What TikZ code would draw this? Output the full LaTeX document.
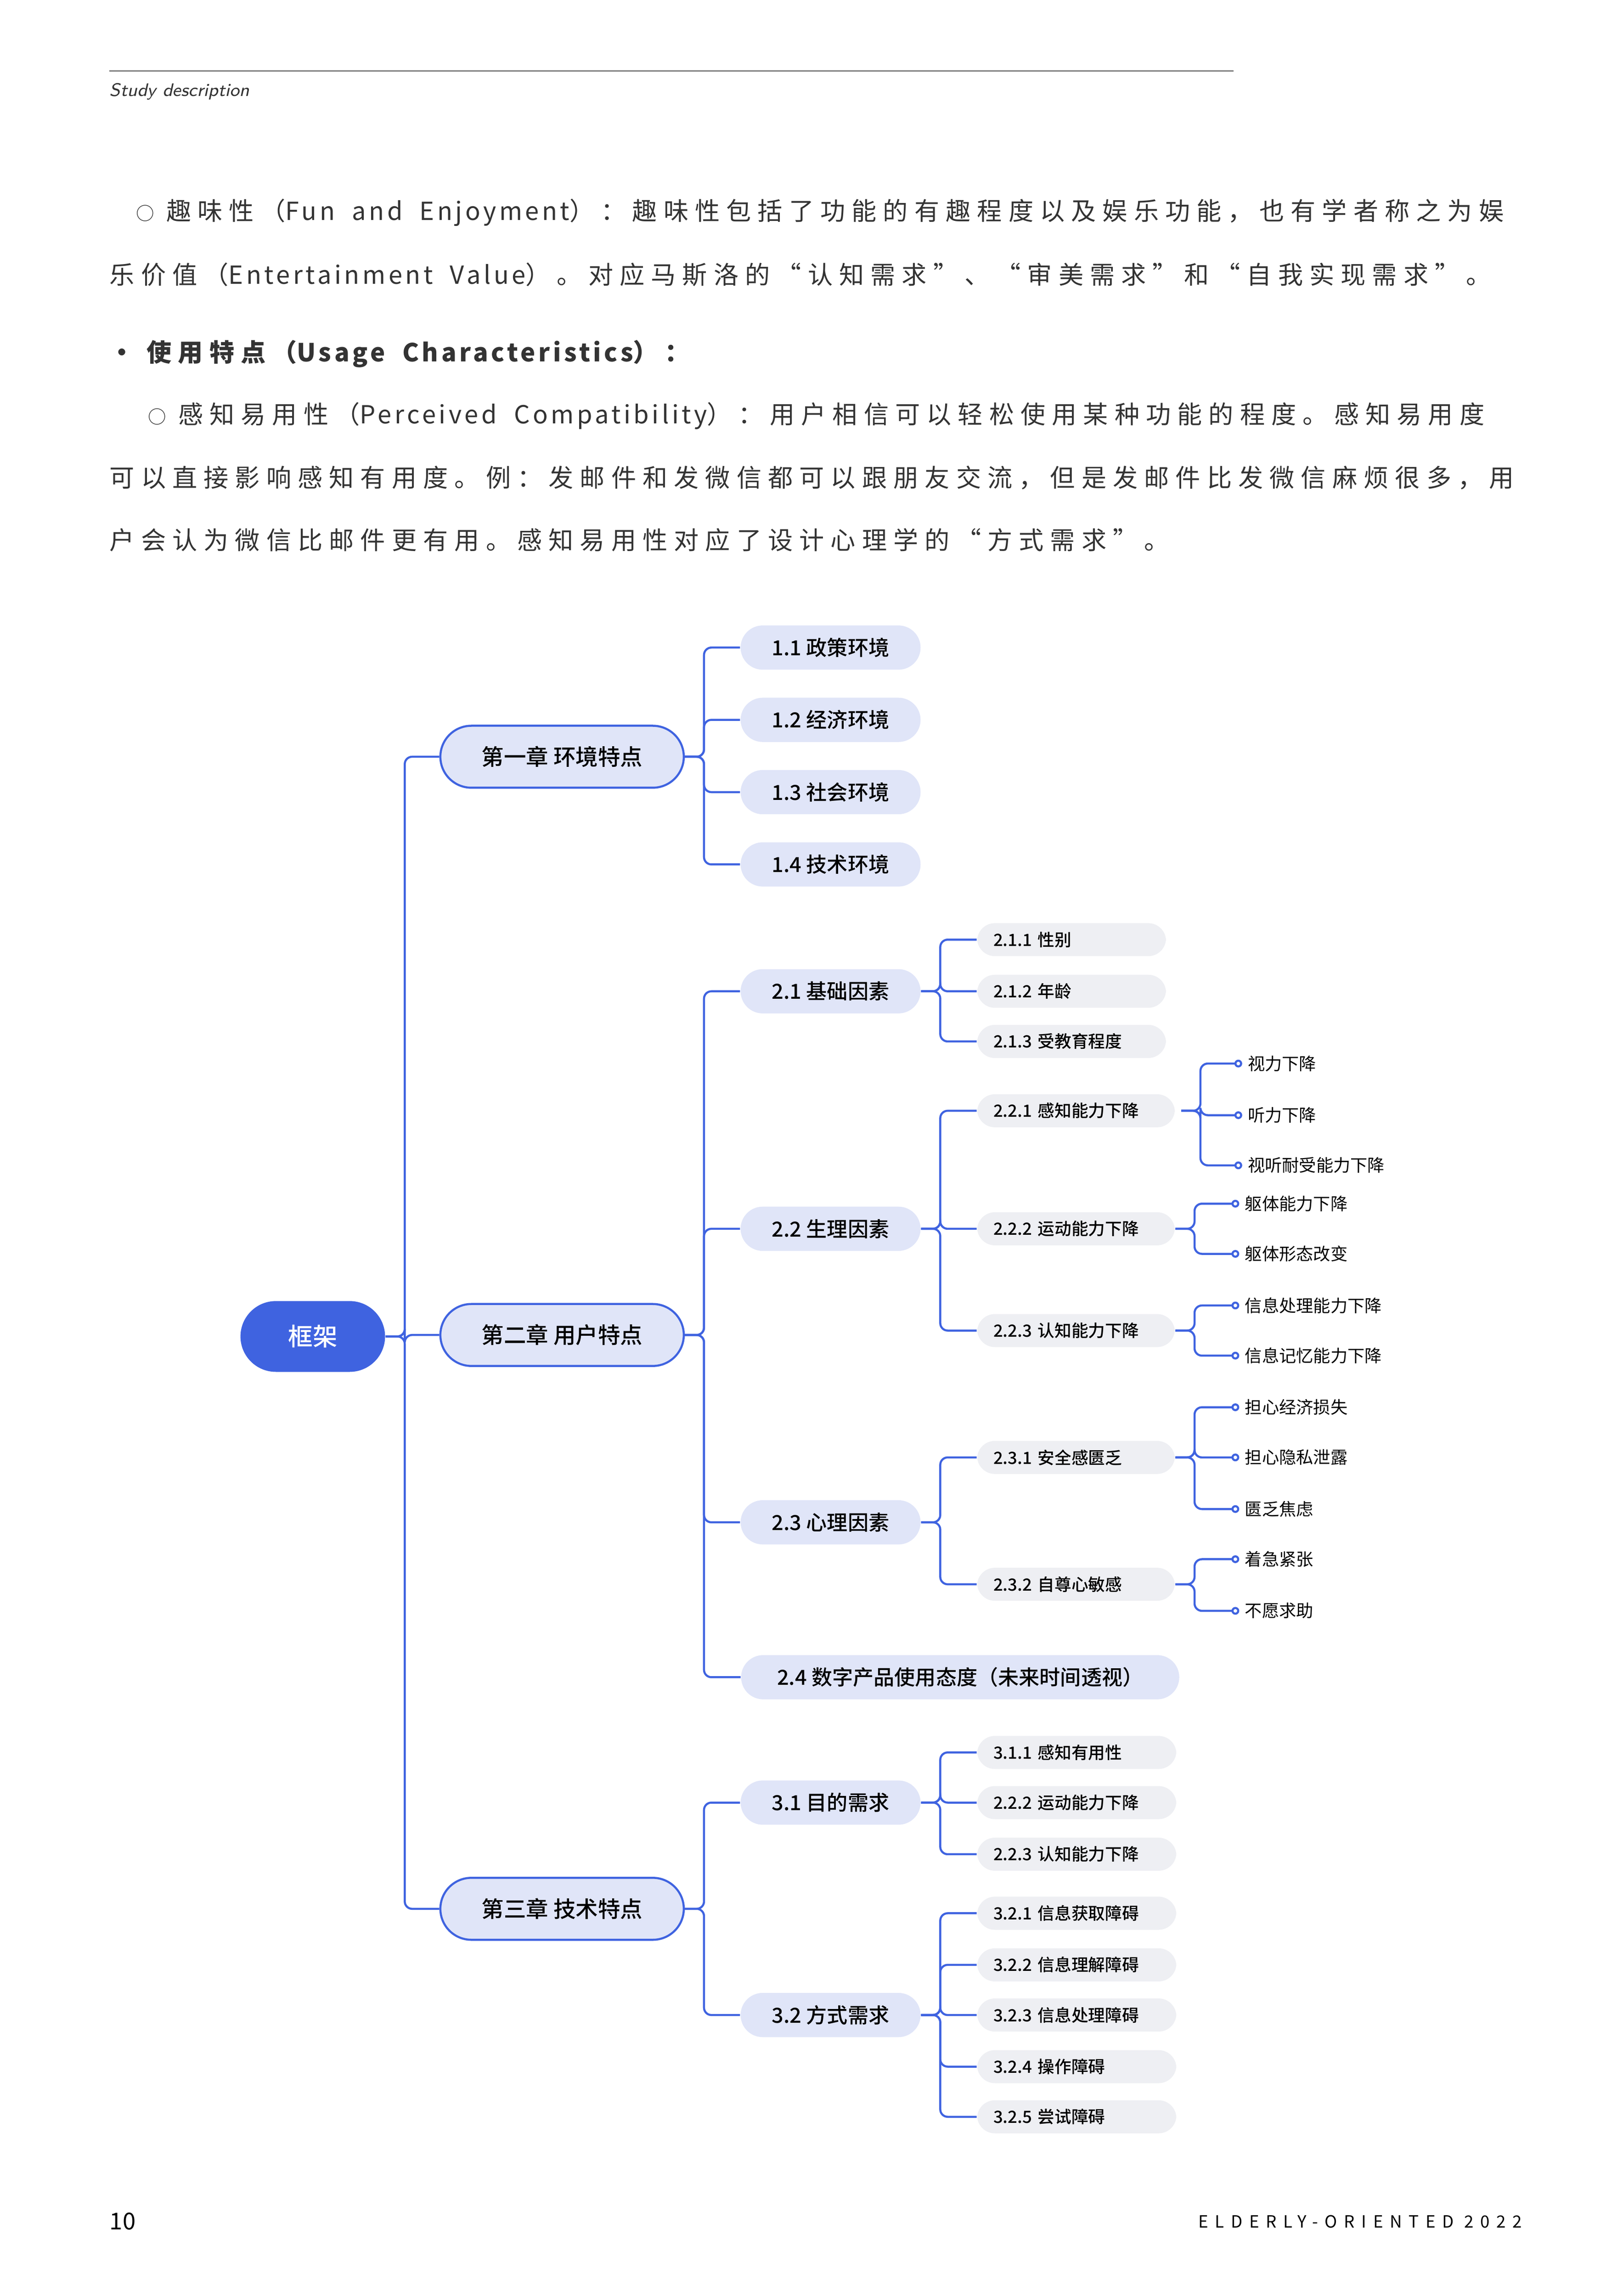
\documentclass[tikz,border=0pt]{standalone}
\usepackage{fontspec}
\setmainfont{Noto Sans CJK SC}
\newfontfamily\medfont{Noto Sans CJK SC Medium}
\newfontfamily\bodyfont[LetterSpace=26]{Noto Sans CJK SC}
\newfontfamily\latfont[LetterSpace=12, WordSpace=2]{Noto Sans CJK SC}
\newfontfamily\footfont[LetterSpace=40]{Noto Sans CJK SC}
\newcommand\lat[1]{{\latfont #1}}
\usepackage{xcolor}
\usetikzlibrary{arrows.meta,positioning,calc}
\definecolor{mapblue}{HTML}{3F63E0}
\definecolor{lvlfill}{HTML}{E0E5F8}
\definecolor{subfill}{HTML}{EEEFF3}
\definecolor{bodytext}{HTML}{333333}

\begin{document}
\begin{tikzpicture}[x=0.02cm, y=-0.02cm]
    \tikzstyle{rootbox} = [rectangle, rounded corners=24*0.02cm, fill=mapblue, text=white, minimum width=98*0.02cm, minimum height=48*0.02cm, font=\fontsize{9.5}{11}\medfont]
    \tikzstyle{chapbox} = [rectangle, rounded corners=21*0.02cm, draw=mapblue, line width=0.8pt, fill=lvlfill, minimum width=165*0.02cm, minimum height=42*0.02cm, font=\fontsize{8.6}{10}\medfont]
    \tikzstyle{secbox} = [rectangle, rounded corners=15*0.02cm, fill=lvlfill, minimum width=122*0.02cm, minimum height=30*0.02cm, font=\fontsize{8}{10}\medfont]
    \tikzstyle{subbox} = [rectangle, rounded corners=12*0.02cm, fill=subfill, minimum width=128*0.02cm, minimum height=22*0.02cm, anchor=west, inner xsep=11*0.02cm, align=left, text width=106*0.02cm, font=\fontsize{6.5}{8}\medfont]
    \tikzstyle{leaf} = [anchor=west, inner xsep=2pt, font=\fontsize{6.6}{8}\selectfont]
    \tikzstyle{link} = [draw=mapblue, line width=0.8pt, rounded corners=5*0.02cm]
    \tikzstyle{dotlink} = [link, -{Circle[open, fill=white, length=3pt, width=3pt]}]
    \tikzstyle{para} = [anchor=west, inner sep=0pt, text=bodytext, font=\fontsize{9.6}{12}\bodyfont]

    \useasboundingbox (0,0) rectangle (1100,1556.5);

    % page header, text and footer
    \draw [gray, line width=0.5pt] (74,48) -- (836,48);
    \node [anchor=west, inner sep=0pt, text=bodytext, font=\fontsize{7}{8}\sffamily\itshape] at (74,62) {Study description};
    \node [para] at (92,144) {{\fontsize{7}{8}\selectfont ○} 趣味性（\lat{Fun and Enjoyment}）：趣味性包括了功能的有趣程度以及娱乐功能，也有学者称之为娱};
    \node [para] at (74,186) {乐价值（\lat{Entertainment Value}）。对应马斯洛的“认知需求”、“审美需求”和“自我实现需求”。};
    \node [para, font=\fontsize{9.6}{12}\bodyfont\bfseries] at (74,240) {• 使用特点（{\latfont\bfseries Usage Characteristics}）：};
    \node [para] at (100,282) {{\fontsize{7}{8}\selectfont ○} 感知易用性（\lat{Perceived Compatibility}）：用户相信可以轻松使用某种功能的程度。感知易用度};
    \node [para] at (74,324) {可以直接影响感知有用度。例：发邮件和发微信都可以跟朋友交流，但是发邮件比发微信麻烦很多，用};
    \node [para] at (74,366) {户会认为微信比邮件更有用。感知易用性对应了设计心理学的“方式需求”。};
    \node [anchor=west, inner sep=0pt, font=\fontsize{9}{10}\selectfont] at (74,1506) {10};
    \node [anchor=east, inner sep=0pt, font=\fontsize{6.5}{8}\footfont] at (1032,1506) {ELDERLY-ORIENTED 2022};

    % root and chapters
    \node [rootbox] (root) at (212,906) {框架};
    \node [chapbox] (ch1) at (381,513) {第一章 环境特点};
    \node [chapbox] (ch2) at (381,905) {第二章 用户特点};
    \node [chapbox] (ch3) at (381,1294) {第三章 技术特点};
    \foreach \c in {ch1,ch2,ch3}
        \draw [link] (root.east) -- ++(13,0) |- (\c.west);

    % sections
    \node [secbox] (s11) at (563,439) {1.1 政策环境};
    \node [secbox] (s12) at (563,488) {1.2 经济环境};
    \node [secbox] (s13) at (563,537) {1.3 社会环境};
    \node [secbox] (s14) at (563,586) {1.4 技术环境};
    \node [secbox] (s21) at (563,672) {2.1 基础因素};
    \node [secbox] (s22) at (563,833) {2.2 生理因素};
    \node [secbox] (s23) at (563,1032) {2.3 心理因素};
    \node [secbox, anchor=west, minimum width=297*0.02cm] (s24) at (502,1137) {2.4 数字产品使用态度（未来时间透视）};
    \node [secbox] (s31) at (563,1222) {3.1 目的需求};
    \node [secbox] (s32) at (563,1366) {3.2 方式需求};
    \foreach \c in {s11,s12,s13,s14}
        \draw [link] (ch1.east) -- ++(13,0) |- (\c.west);
    \foreach \c in {s21,s22,s23,s24}
        \draw [link] (ch2.east) -- ++(13,0) |- (\c.west);
    \foreach \c in {s31,s32}
        \draw [link] (ch3.east) -- ++(13,0) |- (\c.west);

    % sub-sections
    \node [subbox] (t211) at (662,637) {2.1.1 性别};
    \node [subbox] (t212) at (662,672) {2.1.2 年龄};
    \node [subbox] (t213) at (662,706) {2.1.3 受教育程度};
    \node [subbox, text width=112*0.02cm] (t221) at (662,753) {2.2.1 感知能力下降};
    \node [subbox, text width=112*0.02cm] (t222) at (662,833) {2.2.2 运动能力下降};
    \node [subbox, text width=112*0.02cm] (t223) at (662,902) {2.2.3 认知能力下降};
    \node [subbox, text width=112*0.02cm] (t231) at (662,988) {2.3.1 安全感匮乏};
    \node [subbox, text width=112*0.02cm] (t232) at (662,1074) {2.3.2 自尊心敏感};
    \node [subbox, text width=113*0.02cm] (t311) at (662,1188) {3.1.1 感知有用性};
    \node [subbox, text width=113*0.02cm] (t312) at (662,1222) {2.2.2 运动能力下降};
    \node [subbox, text width=113*0.02cm] (t313) at (662,1257) {2.2.3 认知能力下降};
    \node [subbox, text width=113*0.02cm] (t321) at (662,1297) {3.2.1 信息获取障碍};
    \node [subbox, text width=113*0.02cm] (t322) at (662,1332) {3.2.2 信息理解障碍};
    \node [subbox, text width=113*0.02cm] (t323) at (662,1366) {3.2.3 信息处理障碍};
    \node [subbox, text width=113*0.02cm] (t324) at (662,1401) {3.2.4 操作障碍};
    \node [subbox, text width=113*0.02cm] (t325) at (662,1435) {3.2.5 尝试障碍};
    \foreach \c in {t211,t212,t213}
        \draw [link] (s21.east) -- ++(13,0) |- (\c.west);
    \foreach \c in {t221,t222,t223}
        \draw [link] (s22.east) -- ++(13,0) |- (\c.west);
    \foreach \c in {t231,t232}
        \draw [link] (s23.east) -- ++(13,0) |- (\c.west);
    \foreach \c in {t311,t312,t313}
        \draw [link] (s31.east) -- ++(13,0) |- (\c.west);
    \foreach \c in {t321,t322,t323,t324,t325}
        \draw [link] (s32.east) -- ++(13,0) |- (\c.west);

    % leaves
    \node [leaf] (v1) at (842,721) {视力下降};
    \node [leaf] (v2) at (842,756) {听力下降};
    \node [leaf] (v3) at (842,790) {视听耐受能力下降};
    \node [leaf] (m1) at (840,816) {躯体能力下降};
    \node [leaf] (m2) at (840,850) {躯体形态改变};
    \node [leaf] (c1) at (840,885) {信息处理能力下降};
    \node [leaf] (c2) at (840,919) {信息记忆能力下降};
    \node [leaf] (p1) at (840,954) {担心经济损失};
    \node [leaf] (p2) at (840,988) {担心隐私泄露};
    \node [leaf] (p3) at (840,1023) {匮乏焦虑};
    \node [leaf] (e1) at (840,1057) {着急紧张};
    \node [leaf] (e2) at (840,1092) {不愿求助};
    \foreach \c in {v1,v2,v3}
        \draw [dotlink] (t221.east) ++(4,0) -- ++(13,0) |- (\c.west);
    \foreach \c in {m1,m2}
        \draw [dotlink] (t222.east) -- ++(13,0) |- (\c.west);
    \foreach \c in {c1,c2}
        \draw [dotlink] (t223.east) -- ++(13,0) |- (\c.west);
    \foreach \c in {p1,p2,p3}
        \draw [dotlink] (t231.east) -- ++(13,0) |- (\c.west);
    \foreach \c in {e1,e2}
        \draw [dotlink] (t232.east) -- ++(13,0) |- (\c.west);
\end{tikzpicture}
\end{document}
